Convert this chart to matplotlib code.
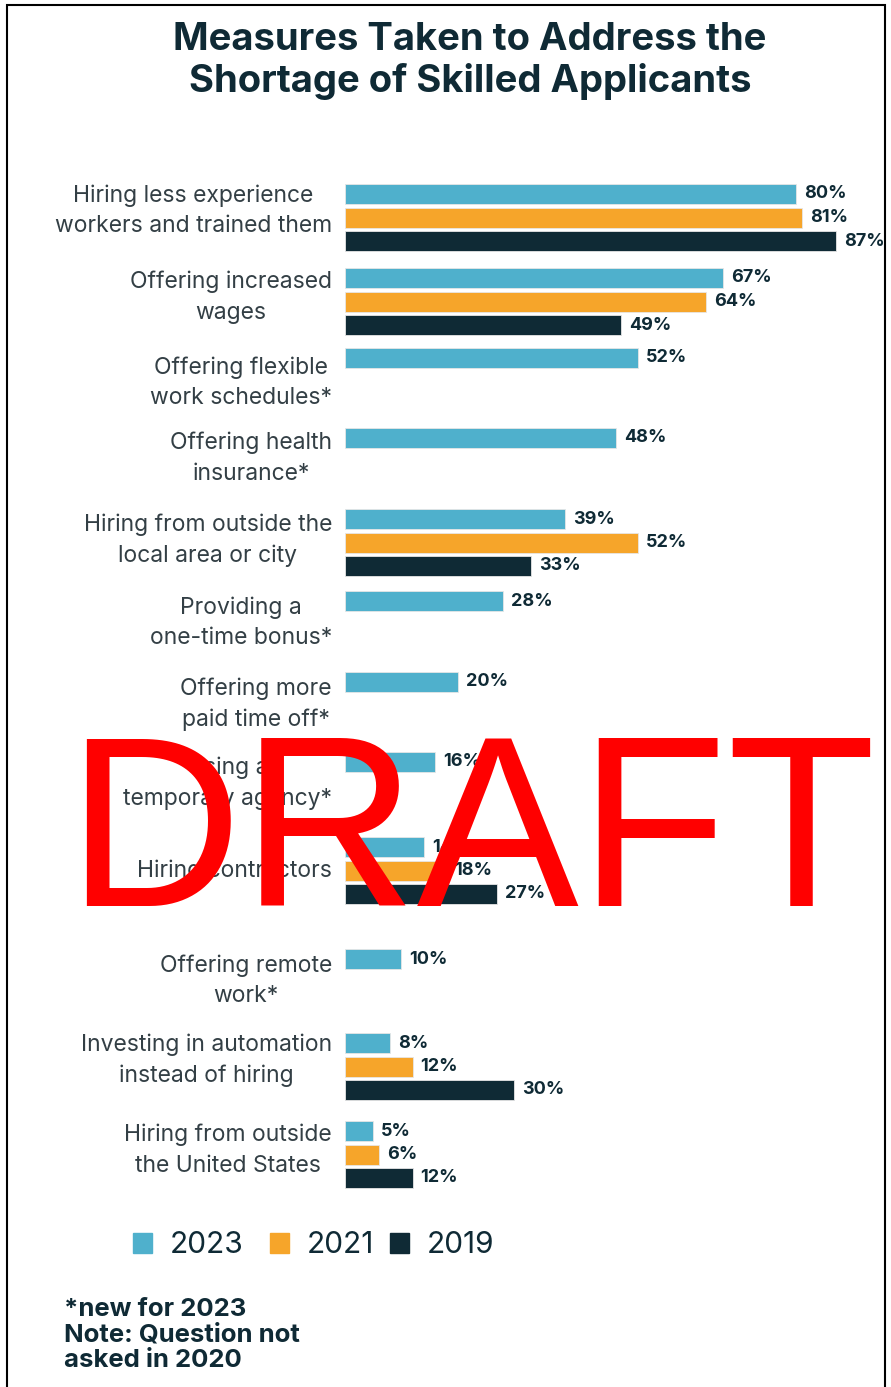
import numpy as np
import matplotlib
matplotlib.use('Agg')
import matplotlib.pyplot as plt
from matplotlib.patches import Rectangle

# survey results, percent of respondents (nan = not asked that year)
categories = [
    "Hiring less experience\nworkers and trained them",
    "Offering increased\nwages",
    "Offering flexible\nwork schedules*",
    "Offering health\ninsurance*",
    "Hiring from outside the\nlocal area or city",
    "Providing a\none-time bonus*",
    "Offering more\npaid time off*",
    "Using a\ntemporary agency*",
    "Hiring contractors",
    "Offering remote\nwork*",
    "Investing in automation\ninstead of hiring",
    "Hiring from outside\nthe United States",
]
v2023 = [80, 67, 52, 48, 39, 28, 20, 16, 14, 10, 8, 5]
v2021 = [81, 64, np.nan, np.nan, 52, np.nan, np.nan, np.nan, 18, np.nan, 12, 6]
v2019 = [87, 49, np.nan, np.nan, 33, np.nan, np.nan, np.nan, 27, np.nan, 30, 12]
years = ["2023", "2021", "2019"]

colors = ["#4fb0cc", "#f6a52a", "#0f2a35"]
dark = "#0f2a35"
textc = "#333f45"

# top of each bar group and middle of each label, in pixel rows
row_top = [184, 268, 348, 428, 509, 591, 672, 752, 837, 949, 1033, 1121]
label_mid = [211, 297, 383, 458, 540, 623, 704, 783, 871, 981, 1060, 1150]
step = 23.5
bar_h = 20
px_per_pct = 5.64
x0 = 345

W, H = 891, 1387
plt.rcParams["font.family"] = ["Inter", "DejaVu Sans"]
fig = plt.figure(figsize=(W / 100, H / 100), dpi=100)
ax = fig.add_axes([0, 0, 1, 1])
ax.set_xlim(-x0 / px_per_pct, (W - x0) / px_per_pct)
ax.set_ylim(H, 0)
ax.axis("off")

for s, (vals, c) in enumerate(zip([v2023, v2021, v2019], colors)):
    vals = np.array(vals, dtype=float)
    yc = np.array(row_top) + s * step + bar_h / 2
    ok = ~np.isnan(vals)
    ax.barh(yc[ok], vals[ok], height=bar_h, color=c, edgecolor="#e6e6e6", linewidth=0.6)
    for y, v in zip(yc[ok], vals[ok]):
        ax.text(v + 8 / px_per_pct, y, f"{int(v)}%", ha="left", va="center",
                fontsize=13, fontweight="bold", color=dark)

label_x = -13 / px_per_pct
for ym, cat in zip(label_mid, categories):
    ax.text(label_x, ym, cat, ha="right", va="center", multialignment="center",
            fontsize=16.5, color=textc, linespacing=1.5)

fig.text(470 / W, 1 - 61 / H, "Measures Taken to Address the\nShortage of Skilled Applicants",
         ha="center", va="center", fontsize=27.5, fontweight="bold", color=dark,
         linespacing=1.18)

# legend
leg_x = [133, 270, 390]
for lx, c, yr in zip(leg_x, colors, years):
    fig.patches.append(Rectangle((lx / W, 1 - 1253 / H), 19 / W, 20 / H,
                                 transform=fig.transFigure, color=c))
    fig.text((lx + 37) / W, 1 - 1245 / H, yr, ha="left", va="center",
             fontsize=21.5, color=dark)

fig.text(64 / W, 1 - 1335 / H, "*new for 2023\nNote: Question not\nasked in 2020",
         ha="left", va="center", fontsize=18.5, fontweight="bold", color=dark,
         linespacing=1.15)

# frame
fig.patches.append(Rectangle((7 / W, -0.01), 878 / W, 1 - 5 / H + 0.01,
                             transform=fig.transFigure, fill=False,
                             edgecolor="black", linewidth=1.5))

fig.text(471 / W, 1 - 843 / H, "DRAFT", ha="center", va="center",
         fontsize=175, color="red", family="Liberation Sans")

fig.savefig("out.png", dpi=100)
